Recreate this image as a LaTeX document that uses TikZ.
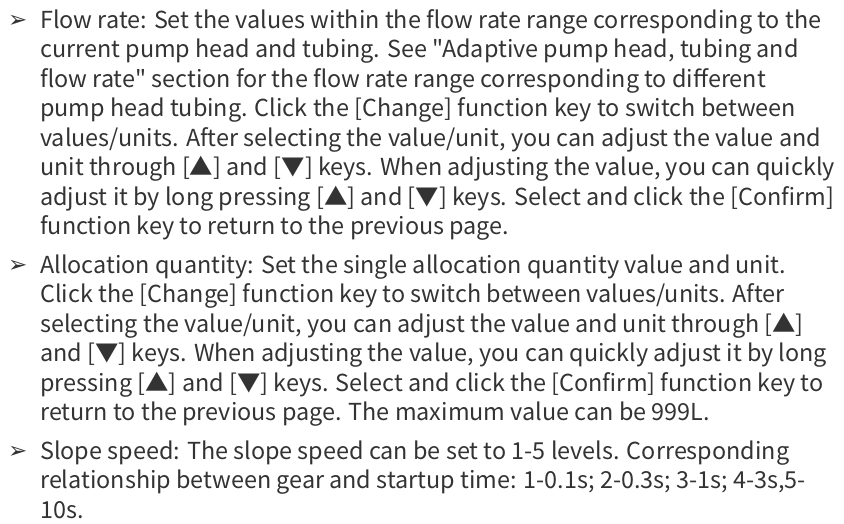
\documentclass[tikz,border=0pt]{standalone}
\usepackage{fontspec}
\setmainfont{Noto Sans CJK SC}[Ligatures=TeXOff]
\newfontfamily\symfont{DejaVu Sans}
\usetikzlibrary{positioning}
\definecolor{txtgray}{HTML}{333333}
\tikzset{
  para/.style={anchor=base west, align=left, inner sep=0pt, text=txtgray,
    font=\fontsize{23.4}{29.5}\selectfont},
  arrowmark/.style={anchor=base west, inner sep=0pt, text=txtgray,
    font=\symfont\fontsize{23}{23}\selectfont}
}

\begin{document}
\begin{tikzpicture}
    \useasboundingbox (0,0) rectangle (844pt,-523pt);
    % flow rate (base anchor = last line)
    \node[arrowmark] (markA) at (8pt,-27pt) {➢};
    \node[para] (flow) at (40pt,-234.5pt) {Flow rate: Set the values within the flow rate range corresponding to the\\
      current pump head and tubing. See "Adaptive pump head, tubing and\\
      flow rate" section for the flow rate range corresponding to different\\
      pump head tubing. Click the [Change] function key to switch between\\
      values/units. After selecting the value/unit, you can adjust the value and\\
      unit through [▲] and [▼] keys. When adjusting the value, you can quickly\\
      adjust it by long pressing [▲] and [▼] keys. Select and click the [Confirm]\\
      function key to return to the previous page.};
    % allocation quantity
    \node[arrowmark] (markB) at (8pt,-272pt) {➢};
    \node[para] (alloc) at (40pt,-420.5pt) {Allocation quantity: Set the single allocation quantity value and unit.\\
      Click the [Change] function key to switch between values/units. After\\
      selecting the value/unit, you can adjust the value and unit through [▲]\\
      and [▼] keys. When adjusting the value, you can quickly adjust it by long\\
      pressing [▲] and [▼] keys. Select and click the [Confirm] function key to\\
      return to the previous page. The maximum value can be 999L.};
    % slope speed
    \node[arrowmark] (markC) at (8pt,-458pt) {➢};
    \node[para] (slope) at (40pt,-518pt) {Slope speed: The slope speed can be set to 1-5 levels. Corresponding\\
      relationship between gear and startup time: 1-0.1s; 2-0.3s; 3-1s; 4-3s,5-\\
      10s.};
\end{tikzpicture}
\end{document}
